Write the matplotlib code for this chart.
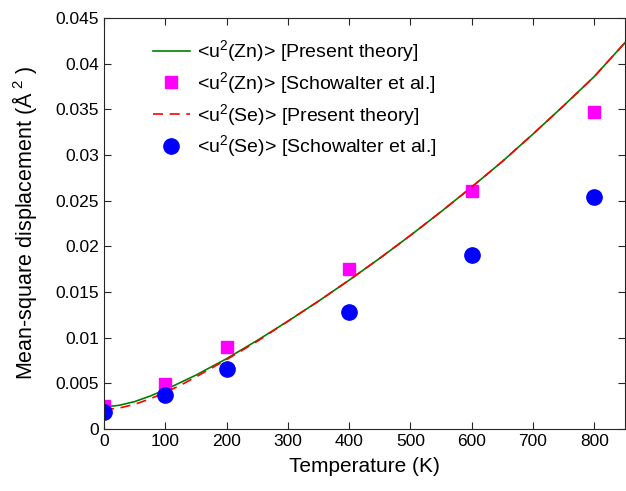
import matplotlib.pyplot as plt

plt.rcParams['font.family'] = ['Liberation Sans', 'DejaVu Sans']
plt.rcParams['mathtext.fontset'] = 'custom'
plt.rcParams['mathtext.rm'] = 'Liberation Sans'
plt.rcParams['mathtext.it'] = 'Liberation Sans'

# theory curves
T_curve = [0, 25, 50, 75, 100, 125, 150, 200, 250, 300, 350, 400, 450, 500,
           550, 600, 650, 700, 750, 800, 850]
zn_theory = [0.0024, 0.0026, 0.0030, 0.0036, 0.0043, 0.0051, 0.0059, 0.0077, 0.0097,
             0.0118, 0.0140, 0.0163, 0.0187, 0.0212, 0.0238, 0.0265, 0.0293, 0.0323,
             0.0354, 0.0386, 0.0423]
se_theory = [0.0021, 0.0023, 0.0027, 0.0033, 0.0040, 0.0048, 0.0057, 0.0076, 0.0096,
             0.0118, 0.0140, 0.0163, 0.0187, 0.0212, 0.0238, 0.0265, 0.0293, 0.0323,
             0.0354, 0.0386, 0.0423]

# Schowalter et al. points
T_pts = [0, 100, 200, 400, 600, 800]
zn_pts = [0.0025, 0.0049, 0.0090, 0.0175, 0.0261, 0.0347]
se_pts = [0.0019, 0.0037, 0.0066, 0.0128, 0.0191, 0.0254]

fig = plt.figure(figsize=(6.26, 4.91), dpi=100)
ax = fig.add_axes([104 / 626, 1 - 429 / 491, (625 - 104) / 626, (429 - 18) / 491])

ax.plot(T_curve, zn_theory, color='#008000', lw=1.2, label=r'<u$^2$(Zn)> [Present theory]')
ax.plot(T_pts, zn_pts, 's', color='#ff00ff', ms=8, ls='none', label=r'<u$^2$(Zn)> [Schowalter et al.]')
ax.plot(T_curve, se_theory, color='#ff0000', lw=1.2, ls=(0, (6, 4)), label=r'<u$^2$(Se)> [Present theory]')
ax.plot(T_pts, se_pts, 'o', color='#0000ff', ms=11, ls='none', label=r'<u$^2$(Se)> [Schowalter et al.]')

ax.set_xlim(0, 850)
ax.set_ylim(0, 0.045)
ax.set_xticks(range(0, 801, 100))
ax.set_yticks([0, 0.005, 0.01, 0.015, 0.02, 0.025, 0.03, 0.035, 0.04, 0.045])
ax.set_yticklabels(['0', '0.005', '0.01', '0.015', '0.02', '0.025', '0.03', '0.035', '0.04', '0.045'])
ax.tick_params(direction='in', top=True, right=True, labelsize=12.5, length=5, color='#262626')
for s in ax.spines.values():
    s.set_color('#262626')
    s.set_linewidth(0.8)

ax.set_xlabel('Temperature (K)', fontsize=15, labelpad=6)
ax.set_ylabel(r'Mean-square displacement (Å$^{\ 2}$ )', fontsize=15.5, labelpad=12)

ax.legend(loc='upper left', bbox_to_anchor=(0.06, 0.993), frameon=False, fontsize=14,
          handlelength=1.9, labelspacing=0.3, handletextpad=0.4)

fig.savefig('out.png', dpi=100)
